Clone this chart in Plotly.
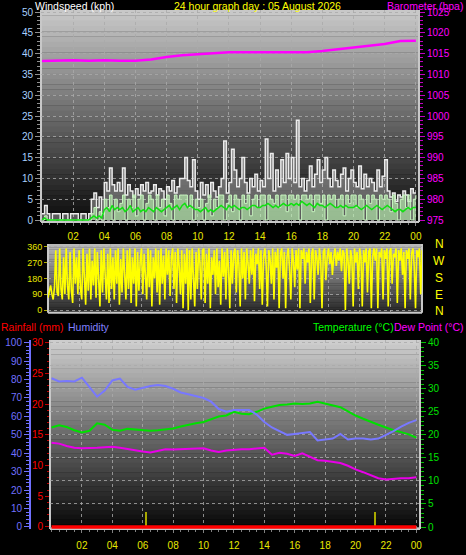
import plotly.graph_objects as go

W, H = 466, 555


def px(x):
    return x / W


def py(y):
    return 1 - y / H


# ---------------- data ----------------
# time stamps (hours of day)
t5 = [i / 12 for i in range(289)]      # 5-minute samples
t10 = [i / 6 for i in range(145)]      # 10-minute samples
t30 = [i / 2 for i in range(49)]       # 30-minute samples
t60 = list(range(25))                  # hourly samples

hour_ticks = [2, 4, 6, 8, 10, 12, 14, 16, 18, 20, 22, 24]
hour_labels = ["02", "04", "06", "08", "10", "12", "14", "16", "18", "20", "22", "00"]

wind_gust = [
    1.5, 3.5, 1.5, 0, 1.5, 1.5,
    1.5, 0, 1.5, 1.5, 0, 1.5,
    1.5, 1.5, 0, 1.5, 1.5, 0,
    1.5, 5, 6.5, 3, 5.5, 1.5,
    9, 7, 12.5, 8.5, 7, 9,
    7, 12.5, 6, 8.5, 7, 5.5,
    7.5, 6, 8.5, 7, 9, 6.5,
    7, 8.5, 6, 7.5, 7, 5,
    8, 7, 9.5, 6.5, 8, 10,
    10, 15, 9.5, 8, 14.5, 7,
    5, 9, 6, 8.5, 5.5, 9,
    7, 5.5, 8, 10, 19, 6.5,
    9, 17, 12, 8, 10, 15,
    9, 6.5, 10, 8, 11, 7,
    9.5, 8, 19.5, 10, 16, 7,
    12, 8, 14.5, 9, 16, 10,
    15, 9, 24, 8, 10, 7,
    9.5, 13, 8, 11, 14.5, 9,
    12, 15, 10, 8, 12, 9.5,
    8, 11, 12.5, 7, 10, 12,
    9, 8, 13, 7.5, 11, 8,
    10, 9, 7, 12, 8, 10.5,
    14.5, 7, 5.5, 6.5, 4.5, 6,
    5.5, 7, 6, 4.5, 7.5, 6.5,
    6.5,
]

wind_speed = [
    0, 1, 0, 0, 0, 0,
    0, 0, 0, 0, 0, 0,
    0, 0, 0, 0, 0, 0,
    0, 1.5, 3, 0, 2, 0,
    5, 3, 6, 0, 5, 2,
    4, 6, 0, 5, 3, 6,
    1, 5, 6, 0, 4, 6,
    5, 0, 6, 3, 5, 1,
    6, 4, 0, 6, 5, 6,
    6, 6, 3, 6, 0, 5,
    3, 5, 0, 4, 6, 1,
    5, 3, 6, 6, 0, 4,
    6, 2, 6, 5, 0, 6,
    4, 6, 1, 5, 6, 3,
    6, 6, 0, 6, 5, 4,
    6, 3, 6, 6, 2, 6,
    6, 5, 6, 0, 6, 6,
    5, 6, 2, 6, 6, 4,
    6, 0, 6, 5, 6, 3,
    5, 6, 1, 6, 4, 6,
    6, 3, 6, 5, 0, 6,
    4, 6, 5, 0, 6, 5,
    6, 5, 2, 6, 4, 0,
    5, 6, 3, 6, 0, 5,
    6,
]

wind_avg = [
    0, 0.5, 0, 0, 0, 0,
    0, 0, 0, 0, 0, 0,
    0, 0, 0, 0, 0, 0,
    0, 0.5, 1, 0.5, 1, 0.5,
    2.5, 3, 2, 3.5, 2.5, 3,
    2.5, 3, 2, 2.5, 3.5, 2,
    2.5, 3, 2, 2.5, 2, 3,
    2.5, 2, 3, 2.5, 2, 2.5,
    3, 3.5, 2.5, 3, 3.5, 2.5,
    3.5, 4, 3, 3.5, 3, 2.5,
    2.5, 2, 2.5, 3, 2, 2.5,
    2, 2.5, 3, 3.5, 3, 2.5,
    3.5, 3, 3.5, 3, 2.5, 3,
    3, 2.5, 3, 3.5, 3.5, 3,
    3, 3.5, 3.5, 4, 3.5, 3,
    3.5, 3, 3.5, 4, 3.5, 3.5,
    4, 3.5, 4, 3.5, 4.5, 4,
    3.5, 4, 3.5, 3, 4, 3.5,
    3.5, 3, 3.5, 4, 3.5, 3,
    3, 3.5, 3, 3.5, 3, 3,
    3, 3.5, 3, 2.5, 3, 3.5,
    3, 2.5, 3, 3.5, 3, 2.5,
    3, 3.5, 3, 2.5, 2, 2.5,
    2.5, 2, 2.5, 3, 2.5, 3,
    3,
]

wind_dir = [
    70, 110, 140, 90, 60, 130, 340, 100, 80, 350, 120, 60,
    300, 90, 350, 140, 60, 330, 110, 40, 350, 150, 300, 90,
    340, 120, 60, 350, 200, 30, 320, 110, 350, 60, 280, 140,
    350, 70, 330, 150, 20, 340, 100, 350, 180, 60, 320, 40,
    350, 120, 300, 60, 340, 150, 350, 30, 290, 100, 350, 200,
    60, 340, 120, 350, 40, 300, 150, 350, 20, 330, 110, 280,
    350, 90, 320, 200, 60, 350, 130, 340, 20, 300, 180, 350,
    100, 340, 30, 350, 150, 310, 60, 350, 200, 340, 80, 300,
    350, 120, 330, 40, 350, 250, 90, 340, 10, 320, 150, 350,
    0, 340, 60, 350, 180, 20, 330, 120, 350, 270, 60, 340,
    350, 40, 320, 150, 350, 10, 300, 200, 340, 90, 350, 130,
    280, 30, 350, 190, 330, 60, 350, 240, 10, 340, 150, 320,
    350, 100, 340, 260, 20, 350, 180, 330, 60, 350, 270, 150,
    340, 200, 350, 50, 320, 260, 350, 120, 340, 30, 300, 350,
    250, 20, 340, 290, 150, 350, 60, 330, 240, 350, 10, 320,
    350, 180, 330, 10, 300, 350, 240, 60, 350, 280, 130, 340,
    230, 350, 10, 340, 290, 350, 150, 330, 270, 350, 40, 320,
    350, 60, 340, 300, 200, 350, 280, 10, 330, 350, 170, 300,
    350, 260, 330, 200, 300, 350, 250, 330, 280, 350, 220, 340,
    320, 0, 350, 290, 150, 340, 300, 20, 350, 270, 330, 120,
    350, 300, 20, 340, 270, 350, 100, 330, 350, 10, 300, 350,
    280, 350, 10, 330, 300, 350, 60, 340, 290, 350, 20, 330,
    350, 150, 320, 300, 350, 40, 340, 280, 350, 200, 330, 10,
    340, 290, 350, 60, 320, 350, 250, 10, 340, 300, 350, 90,
    340,
]

barometer = [1013.2, 1013.3, 1013.4, 1013.3, 1013.4, 1013.3, 1013.3, 1013.6, 1014.2,
             1014.6, 1014.9, 1015.1, 1015.3, 1015.3, 1015.2, 1015.2, 1015.2, 1015.3,
             1015.6, 1016.0, 1016.4, 1016.9, 1017.3, 1018.0, 1018.1]

humidity = [80.7, 79, 79.2, 79, 81, 76, 70.7, 74, 79.5, 80.5, 76, 74.5, 75.5, 76.5,
            77, 76.5, 75, 73, 72, 71, 70, 68, 64, 62.5, 63.5, 63.5, 63.5, 61, 57, 54,
            52, 50, 50.5, 51, 51.5, 47, 47.5, 48, 50.5, 47.5, 48, 48, 47.5, 48, 50,
            52, 54.5, 56.5, 58]

temperature = [21.6, 22.1, 21.7, 21, 20.5, 20.9, 22.5, 22.2, 21.1, 20.9, 21.3, 21.2,
               21.1, 20.9, 21, 21.2, 21.4, 21.8, 22.2, 22.5, 22.8, 23.4, 24, 24.2, 25,
               24.6, 24.5, 25, 25.7, 26.1, 26.5, 26.6, 26.8, 26.7, 26.8, 27.2, 26.8,
               26.5, 26, 25.1, 24.2, 23.5, 22.8, 22.2, 21.6, 21, 20.6, 20.1, 19.4]

dew_point = [18.3, 18.1, 17.6, 17.2, 17.1, 17.1, 17.2, 17.3, 17.4, 17.2, 16.9, 16.7,
             16.4, 16.2, 16.6, 16.9, 16.8, 16.9, 17, 17.1, 17.1, 16.6, 16.3, 16.6, 16.8,
             16.9, 16.9, 17.1, 17.2, 15.7, 16.1, 15.9, 15.4, 16, 15.2, 14.5, 14.4, 14.2,
             13.9, 13.3, 12.5, 11.9, 11.2, 10.6, 10.3, 10.5, 10.6, 10.6, 10.8]

rain_t = [0, 24]
rainfall = [0, 0]
rain_rate_t = [6.2, 21.3]
rain_rate = [2.5, 2.5]

# ---------------- figure ----------------
FONT = "Liberation Sans"
fig = go.Figure()

# top panel: wind
fig.add_trace(go.Scatter(x=t10, y=wind_gust, mode="lines", line=dict(color="#ececec", width=1.5, shape="hv"),
                         fill="tozeroy", fillcolor="rgba(215,215,215,0.38)", xaxis="x", yaxis="y",
                         hoverinfo="skip", showlegend=False))
fig.add_trace(go.Scatter(x=t10, y=wind_speed, mode="lines", line=dict(color="#c8f5c0", width=1, shape="hv"),
                         fill="tozeroy", fillcolor="rgba(185,240,175,0.65)", xaxis="x", yaxis="y",
                         hoverinfo="skip", showlegend=False))
fig.add_trace(go.Scatter(x=t10, y=wind_avg, mode="lines", line=dict(color="#10e010", width=1.5),
                         xaxis="x", yaxis="y", hoverinfo="skip", showlegend=False))
fig.add_trace(go.Scatter(x=t60, y=barometer, mode="lines", line=dict(color="#ff00ff", width=2.5),
                         xaxis="x", yaxis="y2", hoverinfo="skip", showlegend=False))

# middle panel: wind direction
fig.add_trace(go.Scatter(x=t5, y=wind_dir, mode="lines", line=dict(color="#ffff00", width=1.6),
                         xaxis="x2", yaxis="y3", hoverinfo="skip", showlegend=False))

# bottom panel
fig.add_trace(go.Bar(x=rain_rate_t, y=rain_rate, width=0.13, marker=dict(color="#a8a800", line=dict(width=0)),
                     xaxis="x3", yaxis="y6", hoverinfo="skip", showlegend=False))
fig.add_trace(go.Scatter(x=t30, y=humidity, mode="lines", line=dict(color="#7878ff", width=2),
                         xaxis="x3", yaxis="y5", hoverinfo="skip", showlegend=False))
fig.add_trace(go.Scatter(x=t30, y=temperature, mode="lines", line=dict(color="#00e000", width=2),
                         xaxis="x3", yaxis="y4", hoverinfo="skip", showlegend=False))
fig.add_trace(go.Scatter(x=t30, y=dew_point, mode="lines", line=dict(color="#e800e8", width=2),
                         xaxis="x3", yaxis="y4", hoverinfo="skip", showlegend=False))
fig.add_trace(go.Scatter(x=rain_t, y=rainfall, mode="lines", line=dict(color="#ff0000", width=3.5),
                         xaxis="x3", yaxis="y6", hoverinfo="skip", showlegend=False))

# ---------------- backgrounds ----------------
shapes = []


def gradient(x0, x1, y0, y1, c_top, c_bot, n=40):
    h = (y1 - y0) / n
    for i in range(n):
        f = i / (n - 1)
        c = int(round(c_top + (c_bot - c_top) * f))
        shapes.append(dict(type="rect", xref="paper", yref="paper", layer="below",
                           x0=px(x0), x1=px(x1), y0=py(y0 + (i + 1) * h + 0.3), y1=py(y0 + i * h),
                           line=dict(width=0), fillcolor=f"rgb({c},{c},{c})"))
    # light frame on left / bottom / right
    for (a, b, c_, d) in [(x0, y0, x0, y1), (x0, y1, x1, y1), (x1, y0, x1, y1)]:
        shapes.append(dict(type="line", xref="paper", yref="paper", layer="below",
                           x0=px(a), y0=py(b), x1=px(c_), y1=py(d),
                           line=dict(color="#c8c8c8", width=2)))


gradient(41, 419, 10, 222, 200, 12)
gradient(48, 422, 244, 312.7, 185, 40)
gradient(50, 420, 340, 529, 205, 8)

GRID = "rgba(170,170,170,0.8)"
TICKF = dict(family=FONT, size=10)

fig.update_layout(
    width=W, height=H, autosize=False,
    margin=dict(l=0, r=0, t=0, b=0, autoexpand=False),
    paper_bgcolor="#000000", plot_bgcolor="rgba(0,0,0,0)",
    font=dict(family=FONT, size=10, color="#ffffff"),
    shapes=shapes, bargap=0,
    xaxis=dict(domain=[px(41), px(419)], range=[-0.064, 24.2], anchor="y",
               tickvals=hour_ticks, ticktext=hour_labels, tickfont=dict(color="#e8e800", **TICKF),
               ticks="outside", ticklen=3, tickcolor="#808080", ticklabelstandoff=2,
               minor=dict(dtick=0.5, tick0=0, ticklen=2, tickcolor="#808080", showgrid=False),
               showgrid=True, gridcolor=GRID, griddash="dot", gridwidth=1,
               zeroline=False, showline=False, fixedrange=True),
    yaxis=dict(domain=[py(222), py(10)], range=[-0.48, 50.48], anchor="x",
               tickvals=list(range(0, 51, 5)), tickfont=dict(color="#a8d0ff", **TICKF),
               ticks="outside", ticklen=5, tickcolor="#909090",
               minor=dict(dtick=1, tick0=0, ticklen=3, tickcolor="#909090", showgrid=False),
               showgrid=True, gridcolor=GRID, griddash="dot", gridwidth=1,
               zeroline=False, showline=False),
    yaxis2=dict(overlaying="y", side="right", anchor="x", range=[974.52, 1025.48],
                tickvals=list(range(975, 1026, 5)), tickfont=dict(color="#ff00ff", **TICKF),
                ticks="outside", ticklen=5, tickcolor="#c000c0",
                minor=dict(dtick=1, tick0=975, ticklen=3, tickcolor="#c000c0", showgrid=False),
                showgrid=False, zeroline=False, showline=False),
    xaxis2=dict(domain=[px(48), px(422)], range=[0, 24], anchor="y3",
                tickvals=hour_ticks, showticklabels=False, ticks="",
                showgrid=True, gridcolor=GRID, griddash="dot", gridwidth=1,
                zeroline=False, showline=False),
    yaxis3=dict(domain=[py(312.7), py(244)], range=[-15, 375], anchor="x2",
                tickvals=[0, 90, 180, 270, 360], tickfont=dict(color="#e8e800", family=FONT, size=9),
                ticks="outside", ticklen=3, tickcolor="#b0b000",
                showgrid=True, gridcolor=GRID, griddash="dot", gridwidth=1,
                zeroline=False, showline=False),
    xaxis3=dict(domain=[px(50), px(420)], range=[-0.1, 24.24], anchor="y4",
                tickvals=hour_ticks, ticktext=hour_labels, tickfont=dict(color="#e8e800", **TICKF),
                ticks="outside", ticklen=3, tickcolor="#808080", ticklabelstandoff=4,
                minor=dict(dtick=0.5, tick0=0, ticklen=2, tickcolor="#808080", showgrid=False),
                showgrid=True, gridcolor=GRID, griddash="dot", gridwidth=1,
                zeroline=False, showline=False),
    yaxis4=dict(domain=[py(529), py(340)], range=[-0.43, 40.59], anchor="x3", side="right",
                tickvals=list(range(0, 41, 5)), tickfont=dict(color="#00e000", **TICKF),
                ticks="outside", ticklen=5, tickcolor="#00c000",
                minor=dict(dtick=1, tick0=0, ticklen=3, tickcolor="#00c000", showgrid=False),
                showgrid=True, gridcolor=GRID, griddash="dot", gridwidth=1,
                zeroline=False, showline=False),
    yaxis5=dict(overlaying="y4", anchor="free", position=px(30), side="left", range=[-1.09, 101.47],
                tickvals=list(range(0, 101, 10)), tickfont=dict(color="#7070ff", **TICKF),
                ticks="outside", ticklen=5, tickcolor="#7070ff",
                minor=dict(dtick=2, tick0=0, ticklen=3, tickcolor="#7070ff", showgrid=False),
                showline=True, linecolor="#7070ff", linewidth=2,
                showgrid=False, zeroline=False),
    yaxis6=dict(overlaying="y4", anchor="x3", side="left", range=[-0.33, 30.44],
                tickvals=list(range(0, 31, 5)), tickfont=dict(color="#ff0000", **TICKF),
                ticks="outside", ticklen=4, tickcolor="#c00000",
                minor=dict(dtick=1, tick0=0, ticklen=2, tickcolor="#c00000", showgrid=False),
                showgrid=False, zeroline=False, showline=False),
)

ann = []


def text(x, y, s, color, anchor="left", size=10.5):
    ann.append(dict(x=px(x), y=py(y), xref="paper", yref="paper", text=s, showarrow=False,
                    xanchor=anchor, yanchor="middle", font=dict(family=FONT, size=size, color=color)))


text(33, 6, "Windspeed (kph)", "#ffffff")
text(257, 6, "24 hour graph day : 05 August 2026", "#ffff00", anchor="center")
text(465, 6, "Barometer (hpa)", "#ff00ff", anchor="right")
for s, yy in zip(["N", "W", "S", "E", "N"], [244, 261, 278, 295, 311]):
    text(439, yy, s, "#ffff00", anchor="center", size=12)
text(-1, 327, "Rainfall (mm)", "#ff0000")
text(66, 327, "Humidity", "#8080ff")
text(311, 327, "Temperature (°C)", "#00ff00")
text(466, 327, "Dew Point (°C)", "#ff00ff", anchor="right")
fig.update_layout(annotations=ann)

fig.write_html("out.html", config={"displayModeBar": False, "staticPlot": True},
               post_script="document.body.style.margin='0px';document.body.style.overflow='hidden';")
